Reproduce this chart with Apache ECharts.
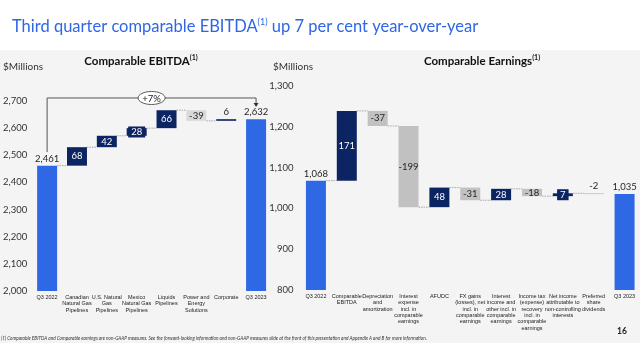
<!DOCTYPE html>
<html><head><meta charset="utf-8">
<script src="https://cdn.jsdelivr.net/npm/echarts@6/dist/echarts.min.js"></script>
<style>html,body{margin:0;padding:0;background:#f4f4f4}#c{width:640px;height:343px}</style>
</head><body><div id="c"></div>
<script>
// ---------- data ----------
const leftCategories = ['Q3 2022','Canadian\nNatural Gas\nPipelines','U.S. Natural\nGas\nPipelines','Mexico\nNatural Gas\nPipelines','Liquids\nPipelines','Power and\nEnergy\nSolutions','Corporate','Q3 2023'];
const leftStart = 2461;
const leftChanges = [68, 42, 28, 66, -39, 6];
const leftEnd = 2632;
const leftAxisMin = 2000, leftAxisMax = 2700, leftAxisStep = 100;
const bracketFrom = 2511, bracketTop = 2710, bracketTo = 2677;
const bracketLabel = '+7%';

const rightCategories = ['Q3 2022','Comparable\nEBITDA','Depreciation\nand\namortization','Interest\nexpense\nincl. in\ncomparable\nearnings','AFUDC','FX gains\n(losses), net\nincl. in\ncomparable\nearnings','Interest\nincome and\nother incl. in\ncomparable\nearnings','Income tax\n(expense)\nrecovery\nincl. in\ncomparable\nearnings','Net income\nattributable to\nnon-controlling\ninterests','Preferred\nshare\ndividends','Q3 2023'];
const rightStart = 1068;
const rightChanges = [171, -37, -199, 48, -31, 28, -18, 7, -2];
const rightEnd = 1035;
const rightAxisMin = 800, rightAxisMax = 1300, rightAxisStep = 100;

// ---------- style ----------
const BLUE = '#2f68e4', NAVY = '#0c2462', TXT = '#262626', TITLE = '#2f66e6';
const FONT = 'Lato, "Open Sans", sans-serif';
const leftLabelModes  = ['top','in','in','box','in','in','top','top'];
const rightLabelModes = ['top','in','in','in','in','in','in','in','box','top','top'];

const fmt = v => v.toLocaleString('en-US');

function waterfall(start, changes, end, modes, gray) {
  const base = [], vis = [], levels = [];
  let lvl = start;
  const lab = (mode, text, bg) => {
    if (mode === 'top') return {show:true, position:'top', distance:2, formatter:text, color:TXT, fontSize:9.5, fontFamily:FONT};
    if (mode === 'box') return {show:true, position:'inside', formatter:text, color:'#fff', fontSize:9.5, fontFamily:FONT, backgroundColor:NAVY, padding:[1,3,0,3]};
    return {show:true, position:'inside', formatter:text, color: bg === NAVY ? '#fff' : TXT, fontSize:9.5, fontFamily:FONT};
  };
  base.push(0);
  vis.push({value:start, itemStyle:{color:BLUE}, label:lab(modes[0], fmt(start))});
  levels.push(start);
  changes.forEach((d, i) => {
    const nl = lvl + d;
    const c = d >= 0 ? NAVY : gray;
    base.push(Math.min(lvl, nl));
    vis.push({value:Math.abs(d), itemStyle:{color:c}, label:lab(modes[i+1], String(d), c)});
    lvl = nl; levels.push(lvl);
  });
  base.push(0);
  vis.push({value:end, itemStyle:{color:BLUE}, label:lab(modes[modes.length-1], fmt(end))});
  return {base, vis, levels};
}

const L = waterfall(leftStart, leftChanges, leftEnd, leftLabelModes, '#d9d9d9');
const R = waterfall(rightStart, rightChanges, rightEnd, rightLabelModes, '#c1c1c1');

function connectorSeries(idx, levels) {
  return {
    type:'custom', xAxisIndex:idx, yAxisIndex:idx, z:1, silent:true,
    data: levels.slice(0, -1).map((v, i) => [i, v]),
    renderItem: (params, api) => {
      const p = api.coord([api.value(0), api.value(1)]);
      const w = api.size([1, 0])[0];
      return {type:'line', shape:{x1:p[0]+10, y1:p[1], x2:p[0]+w-10, y2:p[1]},
              style:{stroke:'#a6a6a6', lineWidth:1, lineDash:[1.5,1]}};
    }
  };
}

const catAxis = (idx, cats) => ({
  type:'category', gridIndex:idx, data:cats,
  axisLine:{show:false}, axisTick:{show:false},
  axisLabel:{interval:0, fontSize:5.5, lineHeight:6.4, color:'#222', margin:3, verticalAlign:'top', fontFamily:'"Liberation Sans", sans-serif'}
});
const valAxis = (idx, min, max, step, margin) => ({
  type:'value', gridIndex:idx, min, max, interval:step,
  splitLine:{show:false}, axisLine:{show:false}, axisTick:{show:false},
  axisLabel:{formatter:v => fmt(v), fontSize:9.5, color:'#333', margin, fontFamily:FONT}
});

const option = {
  backgroundColor:'#f4f4f4',
  animation:false,
  graphic:[
    {type:'rect', z:-10, shape:{x:0, y:0, width:640, height:50}, style:{fill:'#ffffff'}},
    {type:'text', x:12, y:27, style:{
      text:'{a|Third quarter comparable EBITDA}{s|(1)}{a| up 7 per cent year-over-year}', verticalAlign:'middle',
      rich:{a:{fontSize:16.5, lineHeight:22, fill:TITLE, fontFamily:FONT},
            s:{fontSize:9, lineHeight:22, fill:TITLE, fontFamily:FONT, padding:[0,0,9,0]}}}},
    {type:'text', x:141, y:61, style:{
      text:'{a|Comparable EBITDA}{s|(1)}', align:'center', verticalAlign:'middle',
      rich:{a:{fontSize:11.5, fontWeight:'bold', fill:'#111', fontFamily:FONT},
            s:{fontSize:7, fontWeight:'bold', fill:'#111', fontFamily:FONT, padding:[0,0,6,0]}}}},
    {type:'text', x:482, y:61, style:{
      text:'{a|Comparable Earnings}{s|(1)}', align:'center', verticalAlign:'middle',
      rich:{a:{fontSize:11.5, fontWeight:'bold', fill:'#111', fontFamily:FONT},
            s:{fontSize:7, fontWeight:'bold', fill:'#111', fontFamily:FONT, padding:[0,0,6,0]}}}},
    {type:'text', x:3, y:67, style:{text:'$Millions', fontSize:10, fill:'#333', fontFamily:FONT, verticalAlign:'middle'}},
    {type:'text', x:273, y:67, style:{text:'$Millions', fontSize:10, fill:'#333', fontFamily:FONT, verticalAlign:'middle'}},
    {type:'text', x:1, y:338, style:{text:'(1) Comparable EBITDA and Comparable earnings are non-GAAP measures. See the forward-looking information and non-GAAP measures slide at the front of this presentation and Appendix A and B for more information.', fontSize:4.7, fontStyle:'italic', fill:'#333', fontFamily:FONT, verticalAlign:'middle'}},
    {type:'text', x:622, y:331, style:{text:'16', fontSize:8.5, fontWeight:'bold', fill:'#222', fontFamily:FONT, align:'center', verticalAlign:'middle'}}
  ],
  grid:[
    {left:27, top:100.7, width:244, height:190.3},
    {left:300.5, top:86, width:342, height:204}
  ],
  xAxis:[catAxis(0, leftCategories), catAxis(1, rightCategories)],
  yAxis:[valAxis(0, leftAxisMin, leftAxisMax, leftAxisStep, 5), valAxis(1, rightAxisMin, rightAxisMax, rightAxisStep, 7)],
  series:[
    {type:'bar', xAxisIndex:0, yAxisIndex:0, stack:'l', barWidth:20, data:L.base, itemStyle:{color:'transparent'}, silent:true},
    {type:'bar', xAxisIndex:0, yAxisIndex:0, stack:'l', barWidth:20, data:L.vis, z:3},
    {type:'bar', xAxisIndex:1, yAxisIndex:1, stack:'r', barWidth:20, data:R.base, itemStyle:{color:'transparent'}, silent:true},
    {type:'bar', xAxisIndex:1, yAxisIndex:1, stack:'r', barWidth:20, data:R.vis, z:3},
    connectorSeries(0, L.levels),
    connectorSeries(1, R.levels),
    {
      type:'custom', xAxisIndex:0, yAxisIndex:0, z:5, clip:false, silent:true,
      data:[[0, leftCategories.length - 1]],
      renderItem:(params, api) => {
        const a = api.coord([api.value(0), bracketFrom]);
        const t0 = api.coord([api.value(0), bracketTop]);
        const t1 = api.coord([api.value(1), bracketTop]);
        const b = api.coord([api.value(1), bracketTo]);
        const mx = (t0[0] + t1[0]) / 2;
        return {type:'group', children:[
          {type:'polyline', shape:{points:[a, t0, t1, [b[0], b[1]-3]]}, style:{stroke:'#555', lineWidth:1, fill:null}},
          {type:'polygon', shape:{points:[[b[0]-2.5, b[1]-4], [b[0]+2.5, b[1]-4], [b[0], b[1]]]}, style:{fill:'#333'}},
          {type:'ellipse', shape:{cx:mx, cy:t0[1], rx:13.5, ry:6.5}, style:{fill:'#fff', stroke:'#333', lineWidth:0.8}},
          {type:'text', x:mx, y:t0[1]+0.5, style:{text:bracketLabel, fontSize:9.5, fill:'#222', fontFamily:FONT, align:'center', verticalAlign:'middle'}}
        ]};
      }
    }
  ]
};
echarts.init(document.getElementById('c')).setOption(option);
</script></body></html>
